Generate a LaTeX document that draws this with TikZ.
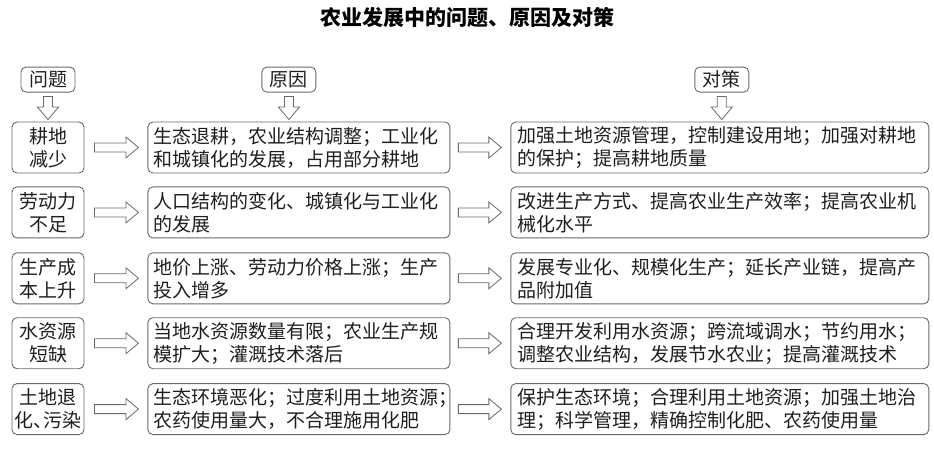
\documentclass[tikz,border=0pt]{standalone}
\usepackage{fontspec}
\newfontfamily\cjk{Noto Sans CJK SC}
\usetikzlibrary{positioning}
\usetikzlibrary{calc}

\definecolor{linegray}{RGB}{105,105,105}
\definecolor{textgray}{RGB}{30,30,30}

\tikzset{
  box/.style={rectangle, draw=linegray, line width=0.9pt, rounded corners=5pt, text=textgray,
    font=\cjk\fontsize{19}{23}\selectfont, minimum height=51pt, inner ysep=2pt},
  probbox/.style={box, align=center, minimum width=72pt, inner xsep=1pt},
  causebox/.style={box, align=left, text width=290pt, inner xsep=6pt},
  planbox/.style={box, align=left, text width=404pt, inner xsep=7pt},
  headbox/.style={box, minimum height=25pt, minimum width=54pt, inner sep=2pt},
  blockarr/.style={draw=linegray, line width=0.8pt, line join=miter, to path={
    (\tikztostart) coordinate (bs) (\tikztotarget) coordinate (bt)
    ($(bt)!12.5pt!(bs)$) coordinate (hb)
    ($(bs)!4.5pt!90:(bt)$) -- ($(hb)!4.5pt!90:(bt)$) -- ($(hb)!10.5pt!90:(bt)$) -- (bt)
    -- ($(hb)!10.5pt!-90:(bt)$) -- ($(hb)!4.5pt!-90:(bt)$) -- ($(bs)!4.5pt!-90:(bt)$) -- cycle}}
}

\begin{document}
\begin{tikzpicture}[x=1pt, y=-1pt]
    \useasboundingbox (0,0) rectangle (934,456);

    % Title
    \node[font=\cjk\bfseries\fontsize{21}{24}\selectfont] (title) at (467,18) {农业发展中的问题、原因及对策};

    % Problems
    \node[probbox] (p1) at (48,147.5) {耕地\\减少};
    \node[probbox, below=13pt of p1] (p2) {劳动力\\不足};
    \node[probbox, below=14pt of p2] (p3) {生产成\\本上升};
    \node[probbox, below=13pt of p3] (p4) {水资源\\短缺};
    \node[probbox, below=14pt of p4] (p5) {土地退\\化、\kern-0.5em污染};

    % Causes
    \node[causebox, right=63pt of p1] (c1) {生态退耕，农业结构调整；工业化\\和城镇化的发展，占用部分耕地};
    \node[causebox, right=63pt of p2] (c2) {人口结构的变化、城镇化与工业化\\的发展};
    \node[causebox, right=63pt of p3] (c3) {地价上涨、劳动力价格上涨；生产\\投入增多};
    \node[causebox, right=63pt of p4] (c4) {当地水资源数量有限；农业生产规\\模扩大；灌溉技术落后};
    \node[causebox, right=63pt of p5] (c5) {生态环境恶化；过度利用土地资源；\\农药使用量大，不合理施用化肥};

    % Measures
    \node[planbox, right=60pt of c1] (m1) {加强土地资源管理，控制建设用地；加强对耕地\\的保护；提高耕地质量};
    \node[planbox, right=60pt of c2] (m2) {改进生产方式、提高农业生产效率；提高农业机\\械化水平};
    \node[planbox, right=60pt of c3] (m3) {发展专业化、规模化生产；延长产业链，提高产\\品附加值};
    \node[planbox, right=60pt of c4] (m4) {合理开发利用水资源；跨流域调水；节约用水；\\调整农业结构，发展节水农业；提高灌溉技术};
    \node[planbox, right=60pt of c5] (m5) {保护生态环境；合理利用土地资源；加强土地治\\理；科学管理，精确控制化肥、农药使用量};

    % Headers
    \node[headbox, above=29pt of p1] (h1) {问题};
    \node[headbox, above=29pt of c1, xshift=-10pt] (h2) {原因};
    \node[headbox, above=29pt of m1, xshift=2pt] (h3) {对策};

    % Arrows
    \draw[blockarr] ([yshift=-4pt]h1.south) to ([yshift=2pt]h1.south |- p1.north);
    \draw[blockarr] ([yshift=-4pt]h2.south) to ([yshift=2pt]h2.south |- c1.north);
    \draw[blockarr] ([yshift=-4pt]h3.south) to ([yshift=2pt]h3.south |- m1.north);

    \draw[blockarr] ([xshift=10pt]p1.east) to ([xshift=-9pt]c1.west);
    \draw[blockarr] ([xshift=10pt]p2.east) to ([xshift=-9pt]c2.west);
    \draw[blockarr] ([xshift=10pt]p3.east) to ([xshift=-9pt]c3.west);
    \draw[blockarr] ([xshift=10pt]p4.east) to ([xshift=-9pt]c4.west);
    \draw[blockarr] ([xshift=10pt]p5.east) to ([xshift=-9pt]c5.west);

    \draw[blockarr] ([xshift=8pt]c1.east) to ([xshift=-9pt]m1.west);
    \draw[blockarr] ([xshift=8pt]c2.east) to ([xshift=-9pt]m2.west);
    \draw[blockarr] ([xshift=8pt]c3.east) to ([xshift=-9pt]m3.west);
    \draw[blockarr] ([xshift=8pt]c4.east) to ([xshift=-9pt]m4.west);
    \draw[blockarr] ([xshift=8pt]c5.east) to ([xshift=-9pt]m5.west);
\end{tikzpicture}
\end{document}
